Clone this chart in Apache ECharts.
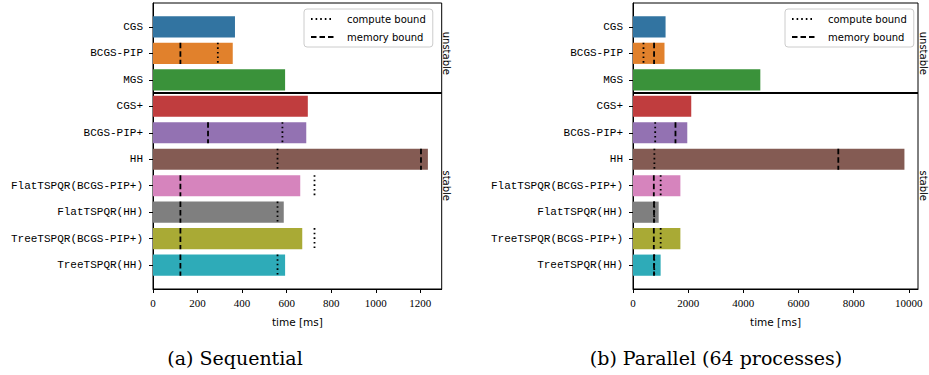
<!DOCTYPE html>
<html>
<head>
<meta charset="utf-8">
<script src="https://cdn.jsdelivr.net/npm/echarts@6/dist/echarts.min.js"></script>
<style>
html,body{margin:0;padding:0;background:#fff;}
#chart{width:929px;height:375px;}
</style>
</head>
<body>
<div id="chart"></div>
<script>
// ---------------- data ----------------
const categories = ['CGS','BCGS-PIP','MGS','CGS+','BCGS-PIP+','HH',
  'FlatTSPQR(BCGS-PIP+)','FlatTSPQR(HH)','TreeTSPQR(BCGS-PIP+)','TreeTSPQR(HH)'];
const barColors = ['#3274a1','#e1812c','#3a923a','#c03d3e','#9372b2',
  '#845b53','#d684bd','#7f7f7f','#a9aa35','#2eabb8'];

// Sequential (ms)
const seqTime    = [368, 358, 593, 695, 688, 1234, 661, 587, 670, 593];
const seqCompute = [null, 291, null, null, 581, 559, 725, 559, 725, 559];
const seqMemory  = [null, 123, null, null, 247, 1203, 123, 123, 123, 123];

// Parallel, 64 processes (ms)
const parTime    = [1181, 1142, 4617, 2112, 1968, 9842, 1718, 931, 1718, 1002];
const parCompute = [null, 380, null, null, 805, 775, 1003, 770, 1003, 770];
const parMemory  = [null, 764, null, null, 1540, 7444, 755, 762, 755, 762];

const seqTicks = [0, 200, 400, 600, 800, 1000, 1200];
const parTicks = [0, 2000, 4000, 6000, 8000, 10000];
const seqMax = 1296;
const parMax = 10334;

const groupNames = ['unstable', 'stable'];
const groupFrom  = [0, 3];
const groupTo    = [2, 9];

const legendNames = ['compute bound', 'memory bound'];
const captions = ['(a) Sequential', '(b) Parallel (64 processes)'];
const xAxisName = 'time [ms]';

// ---------------- styles ----------------
const catIdx = categories.map((c, i) => i);
const BAR_H = 0.8;
const DOT = [1.6, 3];
const DASH = [5.5, 3];
const LW = 1.8;
const MONO = '"Liberation Mono", "Courier New", monospace';
const SERIF = '"Liberation Serif", "Times New Roman", serif';
const SANS = '"DejaVu Sans", sans-serif';
const CAPSERIF = '"DejaVu Serif", serif';

const grids = [
  {left: 153, top: 3, width: 288.7, height: 286},
  {left: 633, top: 3, width: 285, height: 286}
];

function xAxisCfg(gi, max, ticks) {
  return {
    type: 'value', gridIndex: gi, min: 0, max: max,
    axisLine: {show: true, onZero: false, lineStyle: {color: '#000', width: 1}},
    axisTick: {show: true, length: 4, lineStyle: {color: '#000'}, customValues: ticks},
    axisLabel: {customValues: ticks, margin: 8, fontFamily: SERIF, fontSize: 11, color: '#000',
      formatter: v => String(v)},
    splitLine: {show: false},
    name: xAxisName, nameLocation: 'middle', nameGap: 27,
    nameTextStyle: {fontFamily: SANS, fontSize: 10.5, color: '#000'}
  };
}
function yAxisCfg(gi) {
  return {
    type: 'value', gridIndex: gi, inverse: true, min: -0.9, max: 9.9,
    axisLine: {show: true, onZero: false, lineStyle: {color: '#000', width: 1}},
    axisTick: {show: true, length: 4, lineStyle: {color: '#000'}, customValues: catIdx},
    axisLabel: {customValues: catIdx, margin: 10, fontFamily: MONO, fontSize: 11, color: '#000',
      formatter: v => categories[Math.round(v)]},
    splitLine: {show: false}
  };
}

function barSeries(gi, times) {
  return {
    type: 'custom', xAxisIndex: gi, yAxisIndex: gi, z: 2,
    data: times.map((v, i) => [v, i]),
    encode: {x: 0, y: 1},
    renderItem: function (params, api) {
      const i = api.value(1);
      const s = api.coord([0, i]);
      const e = api.coord([api.value(0), i]);
      const h = api.size([0, BAR_H])[1];
      return {type: 'rect', shape: {x: s[0], y: s[1] - h / 2, width: e[0] - s[0], height: h},
        style: {fill: barColors[i]}};
    }
  };
}
function markerSeries(gi, vals, dash) {
  const d = [];
  vals.forEach((v, i) => { if (v != null) d.push([v, i]); });
  return {
    type: 'custom', xAxisIndex: gi, yAxisIndex: gi, z: 3,
    data: d, encode: {x: 0, y: 1},
    renderItem: function (params, api) {
      const p = api.coord([api.value(0), api.value(1)]);
      const h = api.size([0, BAR_H])[1];
      return {type: 'line', shape: {x1: p[0], y1: p[1] - h / 2, x2: p[0], y2: p[1] + h / 2},
        style: {stroke: '#000', lineWidth: LW, lineDash: dash, lineCap: 'butt'}};
    }
  };
}
function separatorSeries(gi) {
  return {
    type: 'custom', xAxisIndex: gi, yAxisIndex: gi, z: 4,
    data: [[0, groupTo[0] + 0.5]], encode: {x: 0, y: 1},
    renderItem: function (params, api) {
      const cs = params.coordSys;
      const y = api.coord([0, api.value(1)])[1];
      return {type: 'line', shape: {x1: cs.x, y1: y, x2: cs.x + cs.width, y2: y},
        style: {stroke: '#000', lineWidth: 2}};
    }
  };
}
function groupLabelSeries(gi) {
  return {
    type: 'custom', xAxisIndex: gi, yAxisIndex: gi, z: 4, clip: false,
    data: groupNames.map((n, k) => [0, groupFrom[k], groupTo[k], k]),
    encode: {x: 0, y: 1},
    renderItem: function (params, api) {
      const cs = params.coordSys;
      const y1 = api.coord([0, api.value(1)])[1];
      const y2 = api.coord([0, api.value(2)])[1];
      return {type: 'text', x: cs.x + cs.width + 5, y: (y1 + y2) / 2, rotation: -Math.PI / 2,
        style: {text: groupNames[api.value(3)], x: 0, y: 0, align: 'center', verticalAlign: 'middle',
          fontFamily: SANS, fontSize: 10, fill: '#000'}};
    }
  };
}
function legendDummies() {
  return [
    {type: 'line', name: legendNames[0], data: [], xAxisIndex: 0, yAxisIndex: 0, symbol: 'none',
      lineStyle: {color: '#000', width: LW, type: DOT}, itemStyle: {color: '#000'}},
    {type: 'line', name: legendNames[1], data: [], xAxisIndex: 0, yAxisIndex: 0, symbol: 'none',
      lineStyle: {color: '#000', width: LW, type: DASH}, itemStyle: {color: '#000'}}
  ];
}
function legendCfg(left) {
  return {
    left: left, top: 9, orient: 'vertical', data: legendNames, selectedMode: false,
    itemWidth: 23, itemHeight: 12, itemGap: 8, padding: [5, 7, 5, 6],
    borderColor: '#cccccc', borderWidth: 1, borderRadius: 3, backgroundColor: 'rgba(255,255,255,0.8)',
    itemStyle: {color: 'rgba(0,0,0,0)', borderColor: 'rgba(0,0,0,0)', borderWidth: 0, opacity: 0},
    textStyle: {fontFamily: SANS, fontSize: 10, color: '#000', padding: [0, 0, 0, 8]}
  };
}

const chart = echarts.init(document.getElementById('chart'), null, {renderer: 'svg'});
chart.setOption({
  animation: false,
  backgroundColor: '#fff',
  title: [
    {text: captions[0], left: 230, top: 343, textAlign: 'center',
      textStyle: {fontFamily: CAPSERIF, fontSize: 19, fontWeight: 'normal', color: '#000'}},
    {text: captions[1], left: 711, top: 343, textAlign: 'center',
      textStyle: {fontFamily: CAPSERIF, fontSize: 19, fontWeight: 'normal', color: '#000'}}
  ],
  grid: grids.map(g => Object.assign({show: true, borderColor: '#000', borderWidth: 1,
    backgroundColor: 'transparent', containLabel: false}, g)),
  xAxis: [xAxisCfg(0, seqMax, seqTicks), xAxisCfg(1, parMax, parTicks)],
  yAxis: [yAxisCfg(0), yAxisCfg(1)],
  legend: [legendCfg(304), legendCfg(785)],
  series: [
    barSeries(0, seqTime), markerSeries(0, seqCompute, DOT), markerSeries(0, seqMemory, DASH),
    separatorSeries(0), groupLabelSeries(0),
    barSeries(1, parTime), markerSeries(1, parCompute, DOT), markerSeries(1, parMemory, DASH),
    separatorSeries(1), groupLabelSeries(1),
    ...legendDummies()
  ]
});
</script>
</body>
</html>
